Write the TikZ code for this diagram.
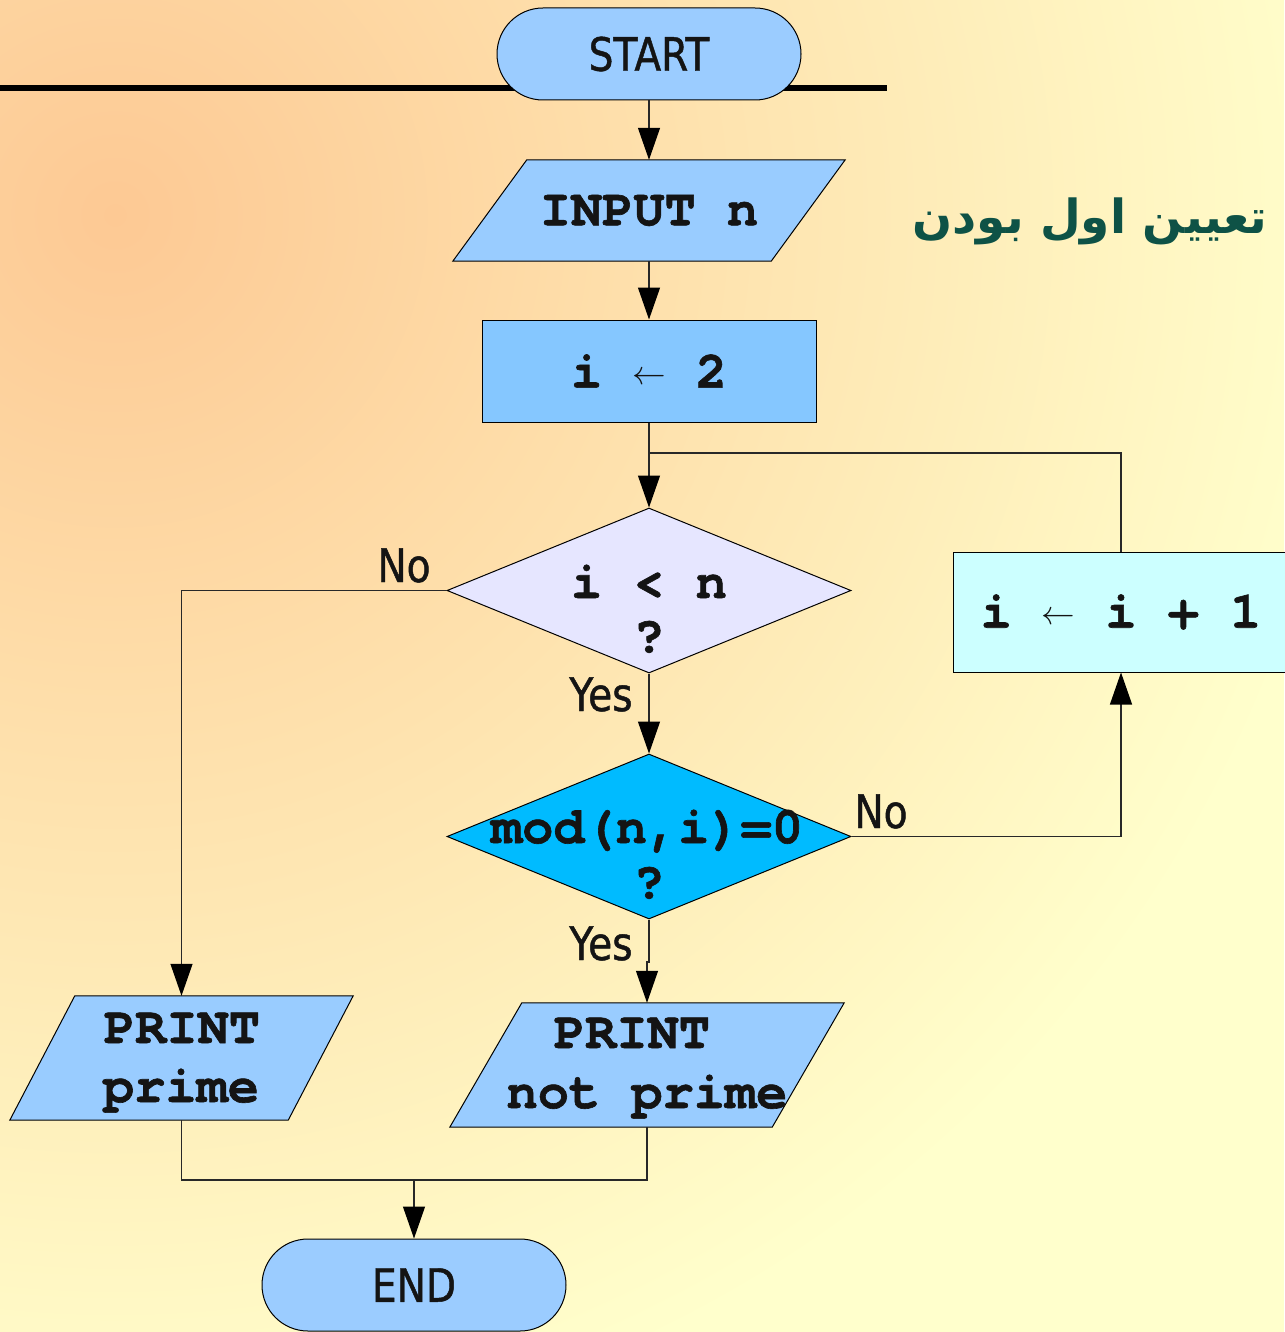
\documentclass[tikz,border=0pt]{standalone}
\usepackage{fontspec}
\usetikzlibrary{shapes.geometric,arrows.meta}
\TeXXeTstate=1
\newfontfamily\sansf{DejaVu Sans}[FakeStretch=0.85,FakeBold=1]
\newfontfamily\monof{texgyrecursor}[Extension=.otf, UprightFont=*-regular, BoldFont=*-bold, BoldFeatures={FakeBold=1.2}]
\newfontfamily\arabicfont[Script=Arabic]{DejaVu Sans}
\definecolor{bgin}{RGB}{253,201,148}
\definecolor{bgout}{RGB}{255,255,204}
\definecolor{termblue}{RGB}{155,204,255}
\definecolor{iofill}{RGB}{153,204,255}
\definecolor{setfill}{RGB}{133,199,255}
\definecolor{decA}{RGB}{230,230,255}
\definecolor{decB}{RGB}{0,187,255}
\definecolor{incfill}{RGB}{204,255,255}
\definecolor{linec}{RGB}{40,40,40}
\definecolor{txt}{RGB}{20,20,20}
\definecolor{titlec}{RGB}{14,82,70}
\pgfdeclarelayer{back}
\pgfsetlayers{back,main}
\newcommand\larr{\makebox[31.2pt]{\raisebox{3pt}{\fontsize{24.88}{25}\selectfont\scalebox{1.35}{$\leftarrow$}}}}
\tikzset{
  lbl/.style={font=\sansf\fontsize{46}{50}\selectfont, text=txt, inner sep=0pt, anchor=base},
  mono/.style={font=\monof\bfseries\fontsize{52}{60}\selectfont, text=txt, inner sep=0pt},
  monoline/.style={mono, anchor=base},
  term/.style={draw=black, line width=1pt, fill=termblue, rounded corners=46pt,
    minimum width=304pt, minimum height=92pt, inner sep=0pt,
    font=\sansf\fontsize{46}{50}\selectfont, text=txt},
  boxnode/.style={draw=black, line width=1pt, inner sep=0pt, mono},
  dec/.style={diamond, draw=black, line width=1pt, minimum width=404pt,
    minimum height=165pt, inner sep=0pt},
  parabox/.style={inner sep=0pt, mono},
  para/.style={draw=black, line width=1pt, fill=iofill},
  conn/.style={draw=linec, line width=1.2pt},
  arr/.style={conn, -{Triangle[length=32pt,width=22pt,black]}},
}
\begin{document}
\begin{tikzpicture}[x=1pt,y=-1pt]
\useasboundingbox (0,0) rectangle (1284,1332);
\begin{pgfonlayer}{back}
  \begin{scope}
    \clip (0,0) rectangle (1284,1332);
    \fill[bgout] (0,0) rectangle (1284,1332);
    \shade[inner color=bgin, outer color=bgout] (115,215) circle[radius=1250pt];
  \end{scope}
  \draw[line width=6pt] (0,88) -- (887,88);
\end{pgfonlayer}

% title
\node[font=\arabicfont\bfseries\fontsize{47}{52}\selectfont, text=titlec, anchor=base, inner sep=0pt]
  (title) at (1090,234) {\beginR تعیین اول بودن\endR};

% terminals
\node[term] (start) at (649,54) {START};
\node[term] (end) at (414,1285) {END};

% input
\node[parabox, minimum width=318pt, minimum height=101pt] (inp) at (649,210.5) {INPUT n};
% assignments
\node[boxnode, fill=setfill, minimum width=334pt, minimum height=102pt] (set2) at (649,371) {i \larr{} 2};
\node[boxnode, fill=incfill, minimum width=336pt, minimum height=120pt] (inc) at (1121,612) {i \larr{} i + 1};

% decisions
\node[dec, fill=decA] (d1) at (649,590.5) {};
\node[monoline] (d1a) at (649,598) {i < n};
\node[monoline] (d1b) at (649,652) {?};
\node[dec, fill=decB] (d2) at (649,836.5) {};
\node[monoline] (d2a) at (647,843) {mod(n,i)=0};
\node[monoline] (d2b) at (649,898) {?};

% outputs
\node[parabox, minimum width=278pt, minimum height=124pt] (pp) at (181.5,1058) {};
\node[monoline] (ppa) at (182,1043) {PRINT};
\node[monoline] (ppb) at (181,1102) {prime};
\node[parabox, minimum width=322pt, minimum height=124pt] (npp) at (647,1065) {};
\node[monoline] (nppa) at (632,1048) {PRINT};
\node[monoline] (nppb) at (647,1108) {not prime};

\begin{pgfonlayer}{back}
  \path[para] ([xshift=37pt]inp.north west) -- ([xshift=37pt]inp.north east)
     -- ([xshift=-37pt]inp.south east) -- ([xshift=-37pt]inp.south west) -- cycle;
  \path[para] ([xshift=32.5pt]pp.north west) -- ([xshift=32.5pt]pp.north east)
     -- ([xshift=-32.5pt]pp.south east) -- ([xshift=-32.5pt]pp.south west) -- cycle;
  \path[para] ([xshift=36pt]npp.north west) -- ([xshift=36pt]npp.north east)
     -- ([xshift=-36pt]npp.south east) -- ([xshift=-36pt]npp.south west) -- cycle;
\end{pgfonlayer}

% labels
\node[lbl] (no1) at (404,582) {No};
\node[lbl] (yes1) at (601,711) {Yes};
\node[lbl] (no2) at (881,828) {No};
\node[lbl] (yes2) at (601,960) {Yes};

% helper coordinates
\coordinate (loopj) at (649,453);
\coordinate (jog) at (649,962);
\coordinate (merge) at (414,1180);

% connectors
\draw[arr] (start.south) -- (inp.north);
\draw[arr] (inp.south) -- (set2.north);
\draw[arr] (set2.south) -- (d1.north);
\draw[conn] (inc.north) |- (loopj);
\draw[arr] (d1.west) -| (pp.north);
\draw[arr] (d1.south) -- (d2.north);
\draw[arr] (d2.east) -| (inc.south);
\draw[arr] (d2.south) -- (jog) -| (npp.north);
\draw[arr] (pp.south) |- (merge) -- (end.north);
\draw[conn] (npp.south) |- (merge);
\end{tikzpicture}
\end{document}
